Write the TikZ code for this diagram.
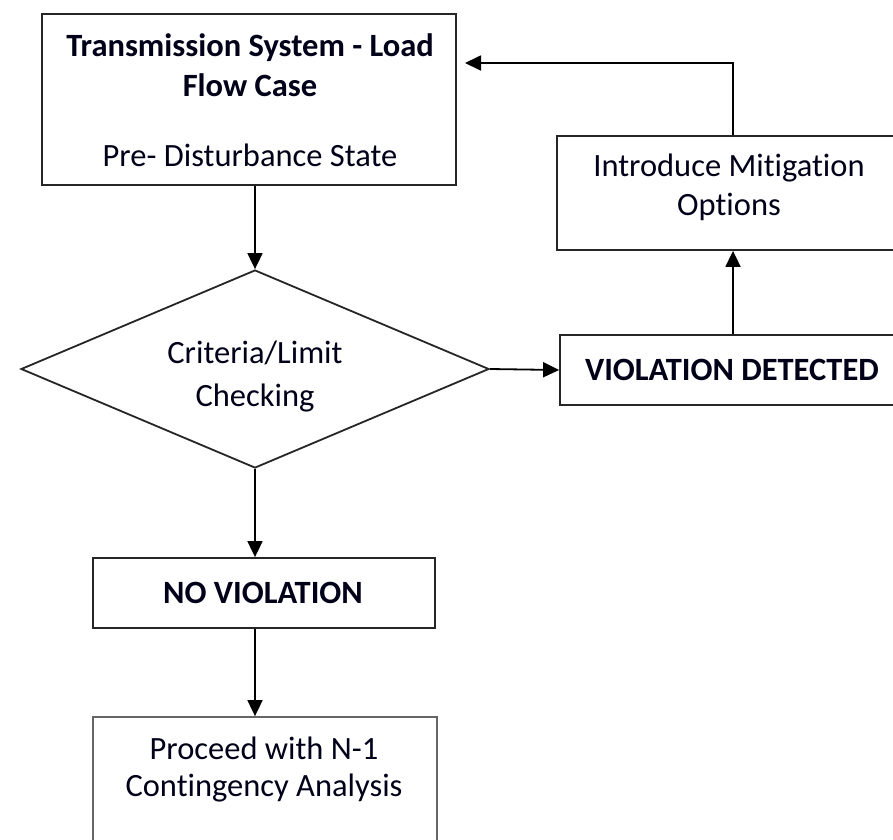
\documentclass[tikz,border=0pt]{standalone}
\usepackage{fontspec}
\setmainfont[Ligatures=NoCommon]{Carlito}
\usetikzlibrary{arrows.meta,shapes.geometric}
\begin{document}
\begin{tikzpicture}[x=1pt,y=-1pt,
  box/.style={draw=black!85,line width=1.8pt,rectangle,inner sep=0pt},
  softbox/.style={draw=black!60,line width=1.8pt,rectangle,inner sep=0pt},
  txt/.style={inner sep=0pt,font=\fontsize{32.5}{40}\selectfont,text=black!90!blue},
  btxt/.style={txt,font=\fontsize{32.5}{40}\selectfont\bfseries},
  link/.style={draw=black,line width=1.8pt,-{Triangle[length=16pt,width=15pt]}}]
\useasboundingbox (0,0) rectangle (893,839);
\clip (0,0) rectangle (893,839);
\fill[white] (0,0) rectangle (893,839);
% boxes
\node[box,minimum width=414pt,minimum height=171pt] (top) at (249,99.5) {};
\node[btxt] (t1) at (250,48) {Transmission System - Load};
\node[btxt] (t2) at (250,85) {Flow Case};
\node[txt] (t3) at (250,155) {Pre- Disturbance State};
\node[draw=black!85,line width=1.8pt,diamond,inner sep=0pt,minimum width=468pt,minimum height=198pt] (dia) at (255,369) {};
\node[txt] (d1) at (255,353) {Criteria/Limit};
\node[txt] (d2) at (255,398) {Checking};
\node[box,minimum width=346pt,minimum height=70pt] (viol) at (733,370) {};
\node[btxt] (v1) at (732,370) {VIOLATION DETECTED};
\node[box,minimum width=352pt,minimum height=114pt] (mit) at (733,193) {};
\node[txt] (m1) at (729,168) {Introduce Mitigation};
\node[txt] (m2) at (729,207) {Options};
\node[box,minimum width=342pt,minimum height=70pt] (nov) at (264,593) {};
\node[btxt] (n1) at (263,593) {NO VIOLATION};
\node[softbox,minimum width=344pt,minimum height=143pt] (proc) at (265,788.5) {};
\node[txt] (p1) at (264,748) {Proceed with N-1};
\node[txt] (p2) at (264,788) {Contingency Analysis};
% connectors
\coordinate (ret) at (465,63);
\draw[link] (dia.north |- top.south) -- (dia.north);
\draw[link] (dia.east) -- (viol.west);
\draw[link] (viol.north -| mit.south) -- (mit.south);
\draw[link] (mit.north) |- (ret);
\draw[link] (dia.south) -- (dia.south |- nov.north);
\draw[link] (dia.south |- nov.south) -- (dia.south |- proc.north);
\end{tikzpicture}
\end{document}
